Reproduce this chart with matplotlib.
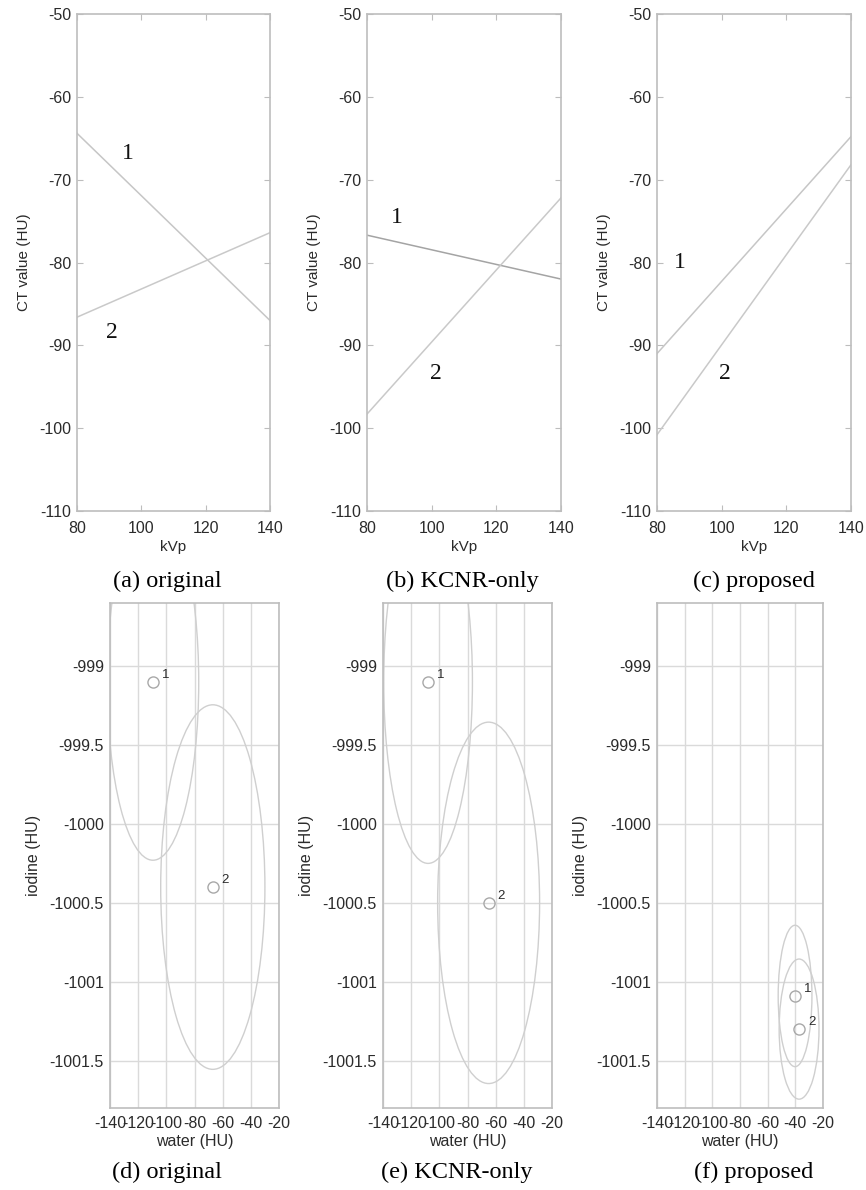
import matplotlib
matplotlib.use("Agg")
import matplotlib.pyplot as plt
from matplotlib.patches import Ellipse

plt.rcParams['font.family'] = ['Liberation Sans', 'DejaVu Sans']
plt.rcParams['axes.unicode_minus'] = False

# top row: CT value vs kVp, two straight lines per panel
kvp = [80, 140]
orig_line1 = [-64.4, -87.0]
orig_line2 = [-86.6, -76.4]
kcnr_line1 = [-76.7, -82.0]
kcnr_line2 = [-98.3, -72.2]
prop_line1 = [-91.0, -64.8]
prop_line2 = [-100.8, -68.2]

# label positions for "1" / "2" (kVp, HU)
orig_lab = [(95.8, -66.9), (90.8, -88.4)]
kcnr_lab = [(89.1, -74.6), (101.2, -93.4)]
prop_lab = [(87.2, -80.0), (100.9, -93.4)]

# bottom row: material points (water, iodine) and their ellipse half-axes
orig_water = [-109.5, -67.0]
orig_iodine = [-999.1, -1000.4]
orig_semi_w = [32.5, 37.0]
orig_semi_i = [1.13, 1.155]

kcnr_water = [-108.0, -65.0]
kcnr_iodine = [-999.1, -1000.5]
kcnr_semi_w = [31.5, 36.2]
kcnr_semi_i = [1.15, 1.145]

prop_water = [-40.2, -37.3]
prop_iodine = [-1001.09, -1001.3]
prop_semi_w = [12.2, 14.4]
prop_semi_i = [0.448, 0.444]

top_captions = ["(a) original", "(b) KCNR-only", "(c) proposed"]
bot_captions = ["(d) original", "(e) KCNR-only", "(f) proposed"]

W, H = 866, 1190
fig = plt.figure(figsize=(W / 100, H / 100), dpi=100)


def px_axes(left, top, right, bottom):
    # axes from pixel box
    return fig.add_axes([left / W, 1 - bottom / H, (right - left) / W, (bottom - top) / H])


spine_col = '#bdbdbd'
line_col = '#c9c9c9'
text_col = '#2b2b2b'
serif = ['Liberation Serif', 'DejaVu Serif']

top_boxes = [(77, 14, 270, 511), (367, 14, 561, 511), (657, 14, 851, 511)]
top_data = [(orig_line1, orig_line2, orig_lab, '#c6c6c6'),
            (kcnr_line1, kcnr_line2, kcnr_lab, '#a4a4a4'),
            (prop_line1, prop_line2, prop_lab, '#c6c6c6')]

for box, (l1, l2, labs, c1) in zip(top_boxes, top_data):
    ax = px_axes(*box)
    ax.plot(kvp, l1, color=c1, lw=1.1)
    ax.plot(kvp, l2, color=line_col, lw=1.1)
    for k, (x, y) in enumerate(labs):
        ax.text(x, y, str(k + 1), family=serif, fontsize=17, ha='center', va='center', color='#111111')
    ax.set_xlim(80, 140)
    ax.set_ylim(-110, -50)
    ax.set_xticks([80, 100, 120, 140])
    ax.set_yticks([-110, -100, -90, -80, -70, -60, -50])
    ax.tick_params(direction='in', top=True, right=True, length=4, color=spine_col,
                   labelsize=11.5, labelcolor=text_col)
    ax.tick_params(axis='x', pad=7)
    ax.tick_params(axis='y', pad=4)
    for s in ax.spines.values():
        s.set_color(spine_col)
        s.set_linewidth(1.2)
    ax.set_xlabel("kVp", fontsize=11, color=text_col, labelpad=3)
    ax.set_ylabel("CT value (HU)", fontsize=11, color=text_col, labelpad=6)

bot_boxes = [(110, 603, 279, 1108), (383, 603, 552, 1108), (657, 603, 823, 1108)]
bot_data = [(orig_water, orig_iodine, orig_semi_w, orig_semi_i),
            (kcnr_water, kcnr_iodine, kcnr_semi_w, kcnr_semi_i),
            (prop_water, prop_iodine, prop_semi_w, prop_semi_i)]

for box, (wat, iod, sw, si) in zip(bot_boxes, bot_data):
    ax = px_axes(*box)
    for k in range(2):
        ax.add_patch(Ellipse((wat[k], iod[k]), 2 * sw[k], 2 * si[k], fill=False,
                             edgecolor='#cfcfcf', lw=1.0))
        ax.plot(wat[k], iod[k], 'o', mfc='none', mec='#a8a8a8', ms=8, mew=1.0)
        ax.annotate(str(k + 1), (wat[k], iod[k]), xytext=(9, 5), textcoords='offset points',
                    fontsize=9.5, ha='center', va='center', color=text_col)
    ax.set_xlim(-140, -20)
    ax.set_ylim(-1001.8, -998.6)
    ax.set_xticks([-140, -120, -100, -80, -60, -40, -20])
    ax.set_xticklabels(['-140', '-120', '-100', '-80', '-60', '-40', '-20'])
    ax.set_yticks([-1001.5, -1001, -1000.5, -1000, -999.5, -999])
    ax.set_yticklabels(['-1001.5', '-1001', '-1000.5', '-1000', '-999.5', '-999'])
    ax.grid(True, color='#dadada', lw=1.0)
    ax.set_axisbelow(True)
    ax.tick_params(length=0, labelsize=11.5, labelcolor=text_col)
    ax.tick_params(axis='x', pad=6)
    ax.tick_params(axis='y', pad=4.5)
    for s in ax.spines.values():
        s.set_color(spine_col)
        s.set_linewidth(1.2)
    ax.set_xlabel("water (HU)", fontsize=11.5, color=text_col, labelpad=2)
    ax.set_ylabel("iodine (HU)", fontsize=11.5, color=text_col, labelpad=6)

for cx, cap in zip([167, 462, 754], top_captions):
    fig.text(cx / W, 1 - 581 / H, cap, family=serif, fontsize=17.5, ha='center', va='center')
for cx, cap in zip([167, 457, 754], bot_captions):
    fig.text(cx / W, 1 - 1172 / H, cap, family=serif, fontsize=17.5, ha='center', va='center')

fig.savefig("out.png", dpi=100, facecolor='white')
